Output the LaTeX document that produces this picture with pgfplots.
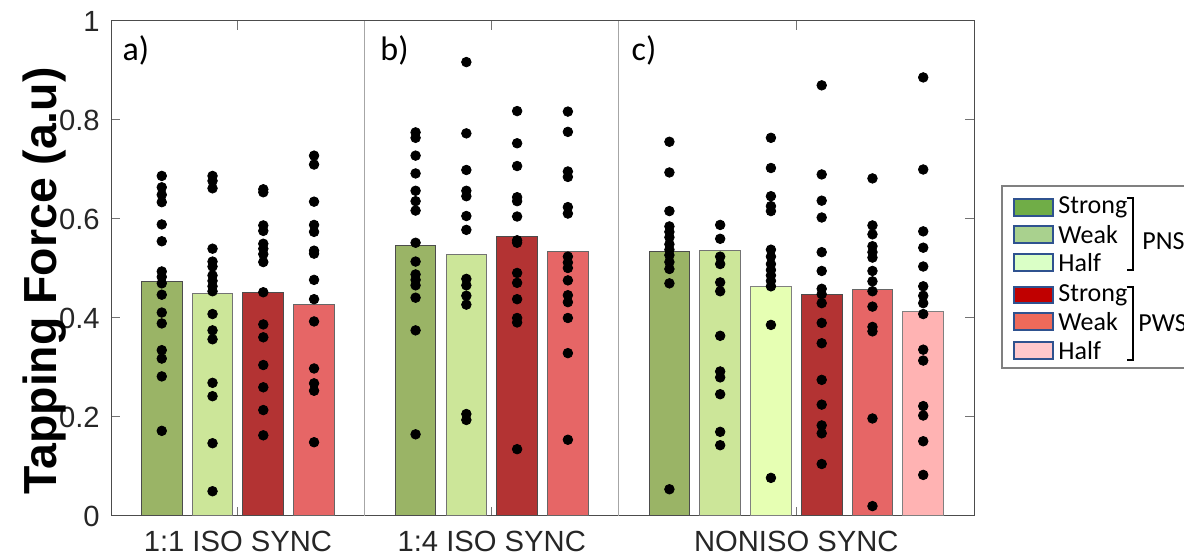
\documentclass[border=0pt]{standalone}
\usepackage{fontspec}
\setmainfont{Liberation Sans}
\newfontfamily\calfont{Carlito}
\usepackage{pgfplots}
\usepackage{pgfplotstable}
\pgfplotsset{compat=1.18}
\definecolor{gS}{HTML}{9AB466}
\definecolor{gW}{HTML}{CCE699}
\definecolor{gH}{HTML}{E6FFB3}
\definecolor{rS}{HTML}{B33333}
\definecolor{rW}{HTML}{E66666}
\definecolor{rH}{HTML}{FFB3B3}
\definecolor{lgS}{HTML}{70AD47}
\definecolor{lgW}{HTML}{A9D18E}
\definecolor{lgH}{HTML}{DAFFC6}
\definecolor{lrS}{HTML}{C00000}
\definecolor{lrW}{HTML}{EE6A5A}
\definecolor{lrH}{HTML}{FFC8CC}
\definecolor{lblue}{HTML}{2F528F}
\definecolor{txt}{HTML}{262626}

\pgfplotstableread{
x y
1 0.687
1 0.664
1 0.649
1 0.634
1 0.589
1 0.555
1 0.494
1 0.483
1 0.470
1 0.447
1 0.411
1 0.389
1 0.335
1 0.318
1 0.282
1 0.172
2 0.687
2 0.677
2 0.662
2 0.540
2 0.514
2 0.504
2 0.486
2 0.475
2 0.464
2 0.454
2 0.408
2 0.375
2 0.357
2 0.269
2 0.242
2 0.147
2 0.050
3 0.660
3 0.654
3 0.587
3 0.576
3 0.550
3 0.540
3 0.529
3 0.513
3 0.452
3 0.387
3 0.361
3 0.305
3 0.260
3 0.214
3 0.163
4 0.728
4 0.710
4 0.635
4 0.588
4 0.574
4 0.536
4 0.530
4 0.477
4 0.438
4 0.393
4 0.298
4 0.268
4 0.253
4 0.149
6 0.775
6 0.764
6 0.728
6 0.692
6 0.657
6 0.636
6 0.617
6 0.552
6 0.514
6 0.488
6 0.477
6 0.466
6 0.441
6 0.375
6 0.165
7 0.917
7 0.773
7 0.699
7 0.657
7 0.646
7 0.606
7 0.578
7 0.479
7 0.466
7 0.445
7 0.427
7 0.206
7 0.194
8 0.818
8 0.753
8 0.707
8 0.644
8 0.636
8 0.605
8 0.557
8 0.552
8 0.491
8 0.471
8 0.438
8 0.400
8 0.391
8 0.135
9 0.817
9 0.776
9 0.696
9 0.685
9 0.624
9 0.611
9 0.524
9 0.512
9 0.501
9 0.476
9 0.446
9 0.432
9 0.400
9 0.329
9 0.154
11 0.756
11 0.694
11 0.616
11 0.585
11 0.574
11 0.563
11 0.549
11 0.538
11 0.527
11 0.513
11 0.499
11 0.470
11 0.054
12 0.588
12 0.560
12 0.524
12 0.509
12 0.472
12 0.454
12 0.364
12 0.292
12 0.280
12 0.246
12 0.170
12 0.143
13 0.764
13 0.703
13 0.646
13 0.626
13 0.616
13 0.538
13 0.524
13 0.509
13 0.497
13 0.486
13 0.475
13 0.464
13 0.386
13 0.077
14 0.870
14 0.690
14 0.637
14 0.603
14 0.533
14 0.495
14 0.459
14 0.448
14 0.430
14 0.390
14 0.349
14 0.275
14 0.225
14 0.183
14 0.167
14 0.105
15 0.682
15 0.587
15 0.569
15 0.545
15 0.533
15 0.522
15 0.495
15 0.474
15 0.454
15 0.423
15 0.382
15 0.373
15 0.197
15 0.020
16 0.886
16 0.700
16 0.575
16 0.542
16 0.504
16 0.464
16 0.445
16 0.430
16 0.408
16 0.336
16 0.314
16 0.222
16 0.203
16 0.151
16 0.083
}\dots

\begin{document}
\begin{tikzpicture}
\path[use as bounding box] (0,0) rectangle (592pt,277.5pt);
\begin{axis}[
  at={(55.5pt,19.5pt)}, anchor=south west,
  scale only axis, width=431.5pt, height=247.5pt,
  xmin=0, xmax=17, ymin=0, ymax=1,
  ytick={0,0.2,0.4,0.6,0.8,1},
  xtick={2.5,7.5,13.5},
  xticklabels={1:1 ISO SYNC,1:4 ISO SYNC,NONISO SYNC},
  tick align=inside, major tick length=4.5pt,
  axis line style={draw=black!70, line width=0.5pt},
  tick style={black!55, line width=0.5pt},
  tick label style={font=\fontsize{14.6}{17}\selectfont, text=txt},
  /pgf/number format/assume math mode=true,
  yticklabel style={xshift=-2.1pt},
  xticklabel style={yshift=-3.8pt},
  ylabel={Tapping Force (a.u)},
  ylabel style={at={(axis description cs:-0.0765,0.475)}, rotate=0, anchor=center, font=\fontsize{23.2}{26}\selectfont\bfseries},
  clip=false,
]
\addplot[black!35, line width=0.5pt, forget plot] coordinates {(5,0) (5,1)};
\addplot[black!35, line width=0.5pt, forget plot] coordinates {(10,0) (10,1)};
\addplot[ybar, bar width=0.8, bar shift=0pt, fill=gS, draw=black!70, line width=0.5pt] coordinates {(1,0.4735) (6,0.547) (11,0.5345)};
\addplot[ybar, bar width=0.8, bar shift=0pt, fill=gW, draw=black!55, line width=0.5pt] coordinates {(2,0.449) (7,0.529) (12,0.536)};
\addplot[ybar, bar width=0.8, bar shift=0pt, fill=gH, draw=black!50, line width=0.5pt] coordinates {(13,0.464)};
\addplot[ybar, bar width=0.8, bar shift=0pt, fill=rS, draw=black!70, line width=0.5pt] coordinates {(3,0.451) (8,0.565) (14,0.448)};
\addplot[ybar, bar width=0.8, bar shift=0pt, fill=rW, draw=black!60, line width=0.5pt] coordinates {(4,0.427) (9,0.534) (15,0.458)};
\addplot[ybar, bar width=0.8, bar shift=0pt, fill=rH, draw=black!50, line width=0.5pt] coordinates {(16,0.4125)};
\addplot[only marks, mark=*, mark size=2.4pt, black] table {\dots};
\node[anchor=west, inner sep=0pt, font=\calfont\fontsize{17}{19}\selectfont] at (axis cs:0.22,0.94) {a)};
\node[anchor=west, inner sep=0pt, font=\calfont\fontsize{17}{19}\selectfont] at (axis cs:5.30,0.94) {b)};
\node[anchor=west, inner sep=0pt, font=\calfont\fontsize{17}{19}\selectfont] at (axis cs:10.25,0.94) {c)};
\end{axis}
% legend (annotation box, partially cut by the figure edge as in the reference)
\draw[black!50, line width=0.6pt, fill=white] (501pt,93.5pt) rectangle (600pt,184.5pt);
\begin{scope}[lblue, line width=0.8pt]
\draw[fill=lgS] (507pt,169.5pt) rectangle (526.5pt,178pt);
\draw[fill=lgW] (507pt,156pt) rectangle (526.5pt,164.5pt);
\draw[fill=lgH] (507pt,142pt) rectangle (526.5pt,150.5pt);
\draw[fill=lrS] (507pt,126pt) rectangle (526.5pt,134pt);
\draw[fill=lrW] (507pt,112.5pt) rectangle (526.5pt,121pt);
\draw[fill=lrH] (507pt,98pt) rectangle (526.5pt,106.5pt);
\end{scope}
\begin{scope}[every node/.style={anchor=west, inner sep=0pt, font=\calfont\fontsize{13}{15}\selectfont}]
\node at (529pt,173.75pt) {Strong};
\node at (529pt,160.25pt) {Weak};
\node at (529pt,146.25pt) {Half};
\node at (529pt,130pt) {Strong};
\node at (529pt,116.75pt) {Weak};
\node at (529pt,102.25pt) {Half};
\node at (571pt,157pt) {PNS};
\node at (569pt,116pt) {PWS};
\end{scope}
\draw[black, line width=0.6pt] (563.3pt,178.5pt) -- (566.5pt,178.5pt) -- (566.5pt,142.5pt) -- (563.3pt,142.5pt);
\draw[black, line width=0.6pt] (563.3pt,134pt) -- (566.5pt,134pt) -- (566.5pt,97.5pt) -- (563.3pt,97.5pt);
\end{tikzpicture}
\end{document}
